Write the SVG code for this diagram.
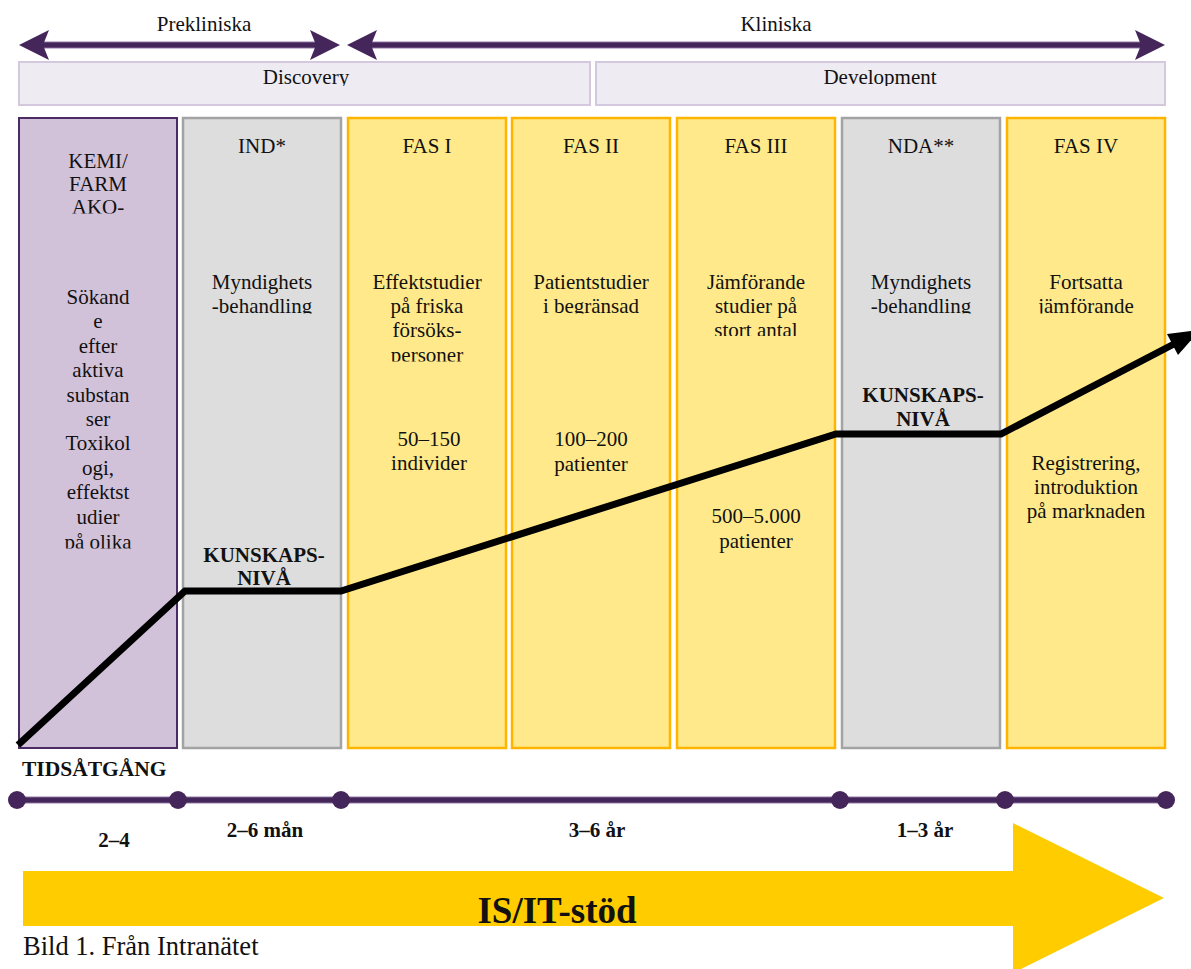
<svg xmlns="http://www.w3.org/2000/svg" width="1191" height="969" viewBox="0 0 1191 969">
  <style>
    text { font-family: "Liberation Serif", "Times New Roman", serif; font-size: 21px; fill: #111; }
    .c { text-anchor: middle; }
    .b { font-weight: bold; }
    .phase { fill: #eeecf2; stroke: #d4c8de; stroke-width: 2; }
    .col-purple { fill: #d1c2d9; stroke: #4a2b63; stroke-width: 2; }
    .col-gray { fill: #dddddd; stroke: #a3a3a3; stroke-width: 2.5; }
    .col-yellow { fill: #ffe98a; stroke: #ffb400; stroke-width: 2.5; }
    .shaft-halo { stroke: #cbbcd7; stroke-width: 8; fill: none; }
    .shaft { stroke: #45265a; stroke-width: 5.5; fill: none; }
    .head { fill: #45265a; }
    .dot { fill: #45265a; }
    .curve { stroke: #000; stroke-width: 7; fill: none; stroke-linejoin: miter; }
  </style>
  <defs>
    <clipPath id="clip-c1-top"><rect x="19" y="118" width="158" height="95.5"/></clipPath>
    <clipPath id="clip-c1-body"><rect x="19" y="270" width="158" height="278.5"/></clipPath>
    <clipPath id="clip-c2"><rect x="183" y="260" width="158" height="53.5"/></clipPath>
    <clipPath id="clip-c3"><rect x="348" y="260" width="158" height="101.5"/></clipPath>
    <clipPath id="clip-c4"><rect x="512" y="260" width="158" height="53.5"/></clipPath>
    <clipPath id="clip-c5"><rect x="677" y="260" width="158" height="76"/></clipPath>
    <clipPath id="clip-c6"><rect x="842" y="260" width="158" height="53.5"/></clipPath>
    <clipPath id="clip-c7"><rect x="1007" y="260" width="158" height="53.5"/></clipPath>
    <clipPath id="clip-phase"><rect x="0" y="62" width="1191" height="24"/></clipPath>
  </defs>

  <!-- span arrows: Prekliniska / Kliniska -->
  <g id="span-prekliniska">
    <line class="shaft-halo" x1="40" y1="45" x2="319" y2="45"/>
    <line class="shaft" x1="40" y1="45" x2="319" y2="45"/>
    <polygon class="head" points="19,45 49,30 43,45 49,60"/>
    <polygon class="head" points="340,45 310,30 316,45 310,60"/>
    <text class="c" x="204" y="31">Prekliniska</text>
  </g>
  <g id="span-kliniska">
    <line class="shaft-halo" x1="368" y1="45" x2="1144" y2="45"/>
    <line class="shaft" x1="368" y1="45" x2="1144" y2="45"/>
    <polygon class="head" points="347,45 377,30 371,45 377,60"/>
    <polygon class="head" points="1165,45 1135,30 1141,45 1135,60"/>
    <text class="c" x="776" y="31">Kliniska</text>
  </g>

  <!-- phase bars -->
  <g id="phase-discovery">
    <rect class="phase" x="19" y="62" width="571" height="43"/>
    <text class="c" x="306" y="84" clip-path="url(#clip-phase)">Discovery</text>
  </g>
  <g id="phase-development">
    <rect class="phase" x="596" y="62" width="569" height="43"/>
    <text class="c" x="880" y="84" clip-path="url(#clip-phase)">Development</text>
  </g>

  <!-- stage columns -->
  <g id="col-kemi">
    <rect class="col-purple" x="19" y="118" width="158" height="630"/>
    <g clip-path="url(#clip-c1-top)">
      <text class="c" x="98" y="168">KEMI/</text>
      <text class="c" x="98" y="191">FARM</text>
      <text class="c" x="98" y="214">AKO-</text>
    </g>
    <g clip-path="url(#clip-c1-body)">
      <text class="c" x="98" y="304">Sökand</text>
      <text class="c" x="98" y="328">e</text>
      <text class="c" x="98" y="353">efter</text>
      <text class="c" x="98" y="377">aktiva</text>
      <text class="c" x="98" y="402">substan</text>
      <text class="c" x="98" y="426">ser</text>
      <text class="c" x="98" y="450">Toxikol</text>
      <text class="c" x="98" y="475">ogi,</text>
      <text class="c" x="98" y="499">effektst</text>
      <text class="c" x="98" y="524">udier</text>
      <text class="c" x="98" y="549">på olika</text>
    </g>
  </g>

  <g id="col-ind">
    <rect class="col-gray" x="183" y="118" width="158" height="630"/>
    <text class="c" x="262" y="153">IND*</text>
    <g clip-path="url(#clip-c2)">
      <text class="c" x="262" y="289">Myndighets</text>
      <text class="c" x="262" y="313">-behandling</text>
    </g>
    <text class="c b" x="264" y="562">KUNSKAPS-</text>
    <text class="c b" x="264" y="585">NIVÅ</text>
  </g>

  <g id="col-fas1">
    <rect class="col-yellow" x="348" y="118" width="158" height="630"/>
    <text class="c" x="427" y="153">FAS I</text>
    <g clip-path="url(#clip-c3)">
      <text class="c" x="427" y="289">Effektstudier</text>
      <text class="c" x="427" y="313">på friska</text>
      <text class="c" x="427" y="337">försöks-</text>
      <text class="c" x="427" y="362">personer</text>
    </g>
    <text class="c" x="429" y="446">50–150</text>
    <text class="c" x="429" y="470">individer</text>
  </g>

  <g id="col-fas2">
    <rect class="col-yellow" x="512" y="118" width="158" height="630"/>
    <text class="c" x="591" y="153">FAS II</text>
    <g clip-path="url(#clip-c4)">
      <text class="c" x="591" y="289">Patientstudier</text>
      <text class="c" x="591" y="313">i begränsad</text>
    </g>
    <text class="c" x="591" y="446">100–200</text>
    <text class="c" x="591" y="471">patienter</text>
  </g>

  <g id="col-fas3">
    <rect class="col-yellow" x="677" y="118" width="158" height="630"/>
    <text class="c" x="756" y="153">FAS III</text>
    <g clip-path="url(#clip-c5)">
      <text class="c" x="756" y="289">Jämförande</text>
      <text class="c" x="756" y="313">studier på</text>
      <text class="c" x="756" y="337">stort antal</text>
    </g>
    <text class="c" x="756" y="523">500–5.000</text>
    <text class="c" x="756" y="548">patienter</text>
  </g>

  <g id="col-nda">
    <rect class="col-gray" x="842" y="118" width="158" height="630"/>
    <text class="c" x="921" y="153">NDA**</text>
    <g clip-path="url(#clip-c6)">
      <text class="c" x="921" y="289">Myndighets</text>
      <text class="c" x="921" y="313">-behandling</text>
    </g>
    <text class="c b" x="923" y="402">KUNSKAPS-</text>
    <text class="c b" x="923" y="426">NIVÅ</text>
  </g>

  <g id="col-fas4">
    <rect class="col-yellow" x="1007" y="118" width="158" height="630"/>
    <text class="c" x="1086" y="153">FAS IV</text>
    <g clip-path="url(#clip-c7)">
      <text class="c" x="1086" y="289">Fortsatta</text>
      <text class="c" x="1086" y="313">jämförande</text>
    </g>
    <text class="c" x="1086" y="470">Registrering,</text>
    <text class="c" x="1086" y="494">introduktion</text>
    <text class="c" x="1086" y="518">på marknaden</text>
  </g>

  <!-- connectors: knowledge-level curve -->
  <g id="connectors">
    <polyline class="curve" points="18,745 185,591 341,591 836,434 1001,434 1174,344"/>
    <polygon fill="#000" points="1200,330 1178,355 1167,334"/>
  </g>

  <!-- time axis -->
  <g id="timeline">
    <text class="b" x="22" y="776" style="font-size:21.5px">TIDSÅTGÅNG</text>
    <line class="shaft-halo" x1="16" y1="800" x2="1166" y2="800"/>
    <line class="shaft" x1="16" y1="800" x2="1166" y2="800"/>
    <circle class="dot" cx="17" cy="800" r="9"/>
    <circle class="dot" cx="178" cy="800" r="9"/>
    <circle class="dot" cx="341" cy="800" r="9"/>
    <circle class="dot" cx="840" cy="800" r="9"/>
    <circle class="dot" cx="1005" cy="800" r="9"/>
    <circle class="dot" cx="1166" cy="800" r="9"/>
    <text class="c b" x="114" y="847">2–4</text>
    <text class="c b" x="265" y="837">2–6 mån</text>
    <text class="c b" x="597" y="837">3–6 år</text>
    <text class="c b" x="925" y="837">1–3 år</text>
  </g>

  <!-- IS/IT support arrow -->
  <g id="isit-arrow">
    <polygon fill="#ffcc00" points="23,871 1013,871 1013,823 1164,898 1013,973 1013,926 23,926"/>
    <text class="c b" x="557" y="923" style="font-size:37px">IS/IT-stöd</text>
  </g>

  <text x="23" y="955" style="font-size:26.5px">Bild 1. Från Intranätet</text>
</svg>
